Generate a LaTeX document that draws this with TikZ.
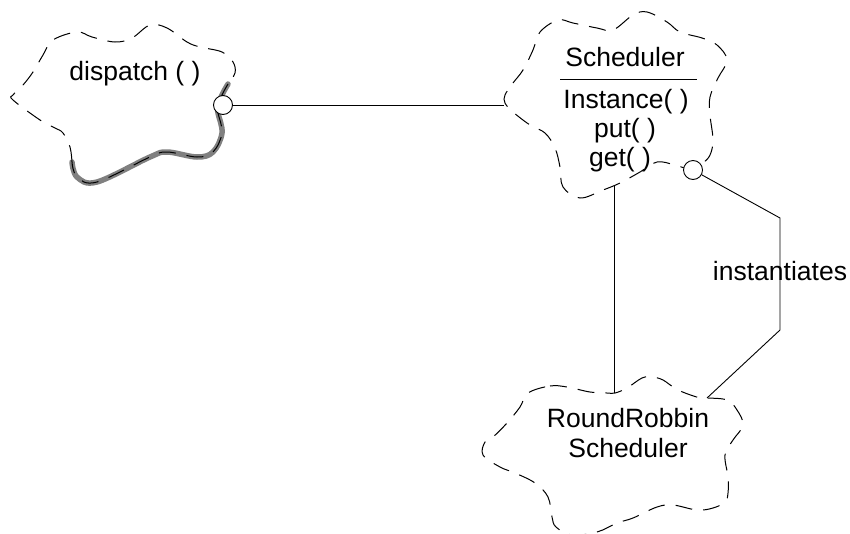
\documentclass[tikz,border=0pt]{standalone}
\usepackage{fontspec}
\setmainfont{Liberation Sans}
\begin{document}
\begin{tikzpicture}[x=1pt,y=-1pt,
  cloudline/.style={draw=black, line width=1pt, dash pattern=on 17pt off 11pt},
  grayband/.style={draw=black!50, line width=5.5pt, line cap=round},
  conn/.style={draw=black, line width=0.9pt},
  lbl/.style={font=\fontsize{26.5}{31}\selectfont, inner sep=0pt, anchor=base},
  port/.style={circle, draw=black, fill=white, line width=0.9pt, minimum size=19pt, inner sep=0pt}]
\useasboundingbox (0,0) rectangle (850,533);

% cloud 1 (dispatch)
\draw[grayband] plot[smooth, tension=0.6] coordinates {(228,84) (222,95) (218,107) (218,113) (222,133) (213,152) (197,157) (167,152) (150,157) (97,182) (77,177) (72,162)};
\draw[cloudline] plot[smooth, tension=0.6] coordinates {(228,84) (222,95) (218,107) (218,113) (222,133) (213,152) (197,157) (167,152) (150,157) (97,182) (77,177) (72,162)};
\draw[cloudline] plot[smooth, tension=0.6] coordinates {(72,162) (70,147) (63,133) (55,128) (40,120) (13,100) (13,95) (23,85) (33,72) (43,55) (53,40) (77,32) (92,37) (115,42) (132,38) (150,25) (167,28) (187,42) (200,47) (222,52) (233,62) (235,73) (228,84)};

% cloud 2 (Scheduler)
\draw[cloudline] plot[smooth cycle, tension=0.6] coordinates {(505,95) (513,83) (523,70) (533,50) (540,32) (558,20) (573,23) (597,28) (613,30) (633,15) (647,12) (667,22) (680,32) (702,38) (717,45) (727,60) (718,78) (710,97) (710,115) (713,140) (710,155) (703,163) (693,170) (675,165) (657,162) (640,172) (620,183) (603,190) (580,198) (563,187) (560,167) (555,148) (545,133) (530,125) (513,112) (505,103)};

% cloud 3 (RoundRobbin)
\draw[cloudline] plot[smooth cycle, tension=0.6] coordinates {(528,393) (550,386) (567,387) (590,392) (607,393) (615,393) (627,388) (642,378) (652,377) (663,380) (678,390) (700,398) (707,398) (727,400) (737,410) (743,425) (733,440) (725,455) (728,477) (728,493) (725,502) (713,508) (697,510) (673,505) (657,507) (633,518) (617,523) (597,532) (572,535) (556,527) (552,517) (548,497) (535,483) (515,473) (500,467) (483,455) (485,442) (493,437) (507,423) (520,407)};

% texts
\node[lbl] (disp) at (135,80) {dispatch ( )};
\node[lbl] (sch) at (625,66) {Scheduler};
\draw[conn] (560,79) -- (697,79);
\node[lbl] (inst) at (626,108) {Instance( )};
\node[lbl] (put) at (625,137) {put( )};
\node[lbl] (get) at (620,166) {get( )};
\node[lbl] (rr1) at (628,427) {RoundRobbin};
\node[lbl] (rr2) at (628,457) {Scheduler};
\node[lbl] (inlbl) at (780,280) {instantiates};

% ports and connector endpoints
\node[port] (c1) at (223,105) {};
\node[port] (c2) at (693,170) {};
\coordinate (s1) at (504,105);
\coordinate (s2) at (614,186);
\coordinate (r1) at (707,398);
\coordinate (r2) at (614,393);
\coordinate (k1) at (780,218);
\coordinate (k2) at (780,330);

\draw[conn] (c1) -- (s1);
\draw[conn] (s2) -- (r2);
\draw[conn] (c2) -- (k1) -- (k2) -- (r1);
\end{tikzpicture}
\end{document}
